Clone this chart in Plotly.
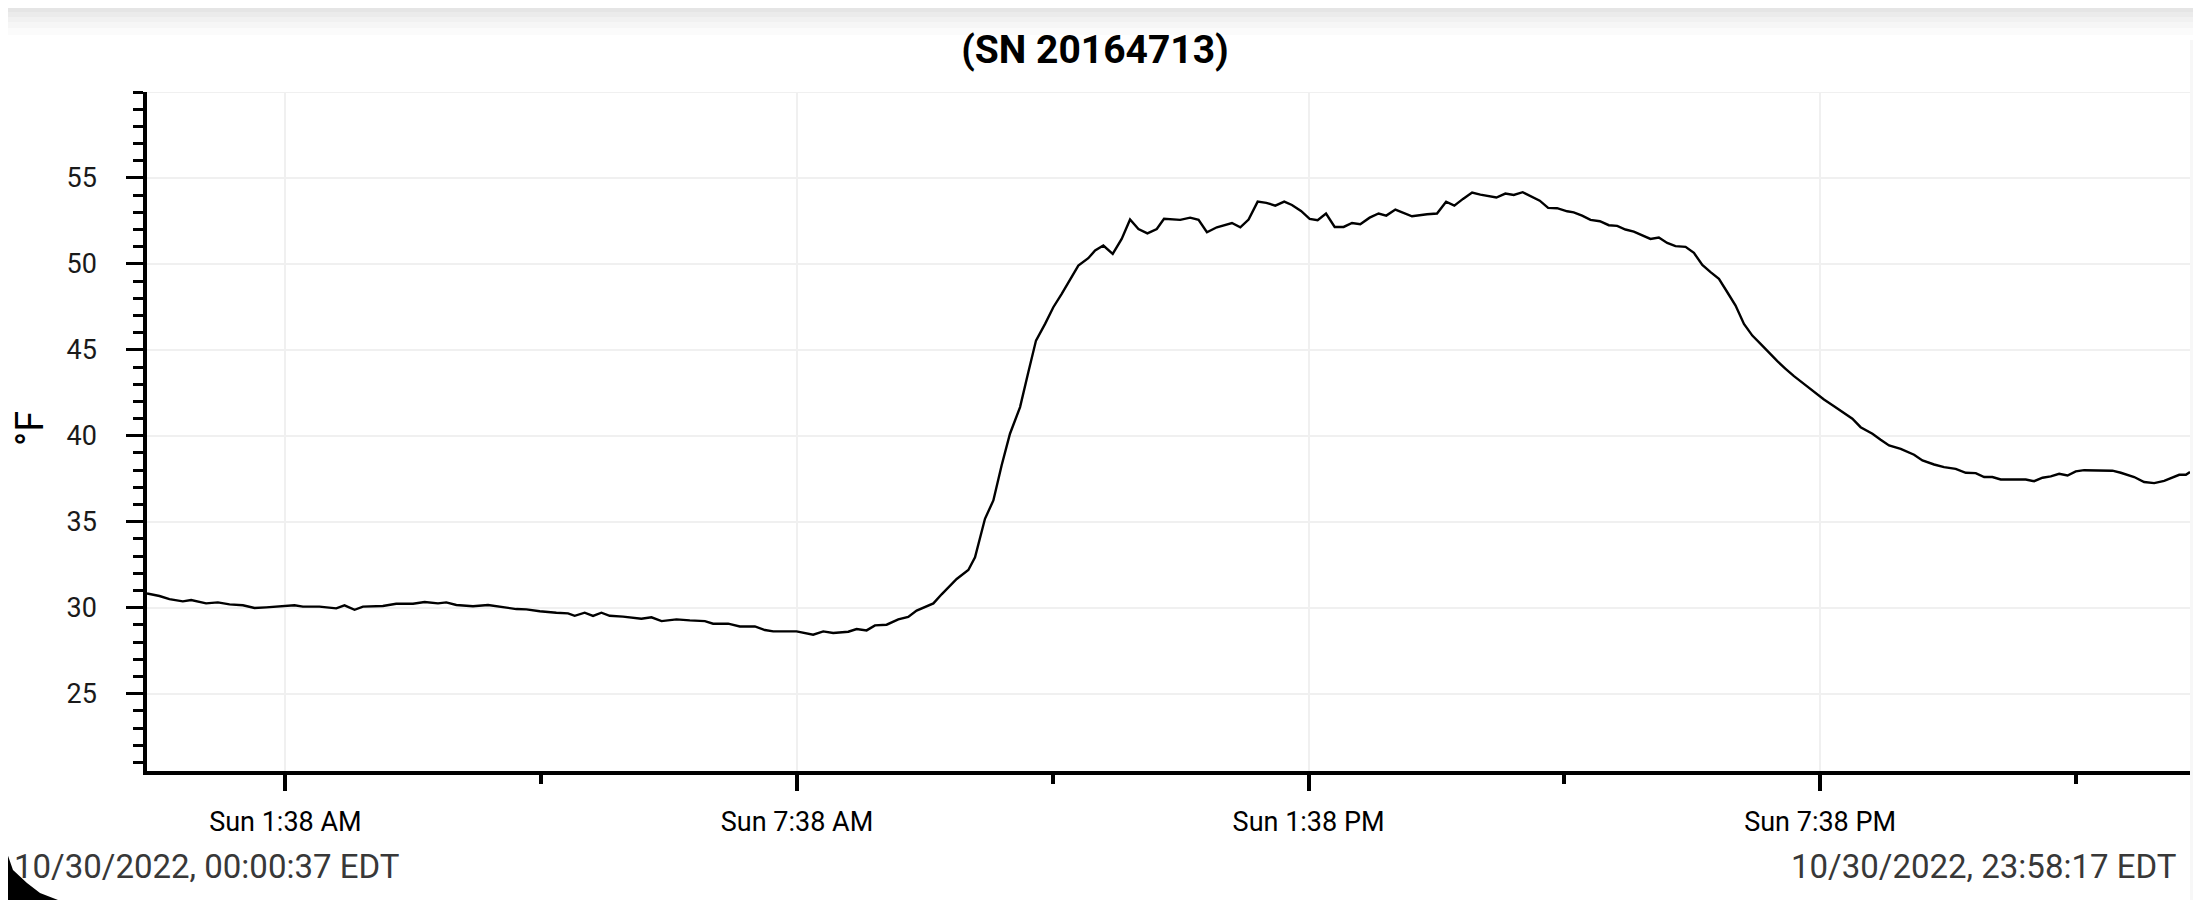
import pandas as pd
import plotly.graph_objects as go

# page is drawn 8px in from the window edge, so every window position is shifted by OFF
W, H = 2201, 900
OFF = 8
# plot area edges in window pixels
P_LEFT, P_RIGHT, P_TOP, P_BOTTOM = 147, 2190, 92, 771

day = "2022-10-30"
title = "(SN 20164713)"
unit = "°F"
start_label = "10/30/2022, 00:00:37 EDT"
end_label = "10/30/2022, 23:58:17 EDT"

# logger readings: minutes after midnight, temperature in °F
minutes = [
    0.62, 9.4, 16.4, 25.8, 31.7, 42.2, 50.5, 58.7, 68.1, 76.3, 84.5, 93.9,
    104.4, 110.3, 122.0, 133.8, 139.6, 146.7, 152.6, 166.6, 176.0, 187.8,
    196.0, 205.4, 211.2, 218.3, 230.0, 240.6, 248.8, 260.5, 267.6, 277.0,
    288.7, 296.9, 301.6, 308.6, 314.5, 320.4, 326.2, 335.6, 348.5, 355.6,
    362.7, 373.2, 382.6, 393.2, 399.0, 409.6, 417.8, 428.4, 435.4, 441.3,
    457.7, 469.4, 476.5, 483.5, 494.1, 500.0, 507.0, 512.9, 521.1, 529.3,
    536.3, 542.2, 554.0, 559.8, 570.4, 578.6, 583.3, 590.3, 596.2, 602.0,
    607.9, 615.0, 620.8, 626.2, 632.6, 638.4, 644.3, 650.2, 656.0, 663.0,
    667.8, 673.6, 680.2, 686.5, 692.4, 698.3, 704.6, 711.2, 716.3, 727.7,
    734.7, 740.6, 746.5, 753.5, 764.1, 770.0, 775.8, 782.2, 788.3, 794.6,
    800.9, 806.3, 812.7, 818.8, 824.4, 830.3, 836.4, 842.7, 848.6, 854.4,
    861.0, 867.3, 872.7, 879.1, 890.8, 901.4, 908.4, 914.8, 920.6, 926.7,
    933.1, 938.9, 950.2, 956.5, 962.4, 968.7, 974.1, 980.7, 986.6, 992.9,
    1000.0, 1004.6, 1010.5, 1016.4, 1023.0, 1029.3, 1035.2, 1041.0, 1046.9,
    1052.8, 1058.6, 1064.5, 1070.4, 1076.2, 1083.3, 1089.2, 1095.1, 1100.9,
    1106.8, 1112.7, 1118.5, 1124.4, 1130.3, 1136.1, 1142.0, 1147.9, 1153.7,
    1159.6, 1166.6, 1173.7, 1180.7, 1187.8, 1194.8, 1200.7, 1206.5, 1214.8,
    1220.6, 1226.5, 1234.7, 1244.1, 1250.0, 1258.2, 1265.2, 1273.4, 1280.5,
    1287.5, 1293.4, 1299.2, 1305.1, 1322.7, 1328.6, 1334.5, 1340.3, 1346.2,
    1352.1, 1357.9, 1363.8, 1375.5, 1383.7, 1389.6, 1399.0, 1406.0, 1413.1,
    1420.1, 1426.0, 1430.7, 1435.4, 1438.28,
]
temps_f = [
    30.83, 30.68, 30.50, 30.37, 30.45, 30.25, 30.31, 30.19, 30.14, 29.98, 30.02, 30.08,
    30.14, 30.06, 30.06, 29.96, 30.14, 29.88, 30.06, 30.10, 30.23, 30.23,
    30.33, 30.25, 30.31, 30.16, 30.08, 30.16, 30.06, 29.92, 29.90, 29.79,
    29.71, 29.67, 29.53, 29.71, 29.52, 29.71, 29.53, 29.48, 29.36, 29.44,
    29.22, 29.32, 29.26, 29.22, 29.07, 29.07, 28.91, 28.91, 28.70, 28.62,
    28.62, 28.43, 28.62, 28.53, 28.60, 28.76, 28.68, 28.97, 29.01, 29.32,
    29.46, 29.83, 30.25, 30.78, 31.67, 32.19, 32.93, 35.17, 36.24, 38.27,
    40.12, 41.67, 43.70, 45.54, 46.51, 47.48, 48.26, 49.13, 49.90, 50.33,
    50.78, 51.07, 50.58, 51.45, 52.58, 52.03, 51.78, 52.03, 52.62, 52.56,
    52.69, 52.56, 51.84, 52.13, 52.38, 52.13, 52.58, 53.62, 53.55, 53.39,
    53.62, 53.43, 53.08, 52.62, 52.54, 52.93, 52.15, 52.15, 52.38, 52.31,
    52.69, 52.93, 52.81, 53.16, 52.77, 52.89, 52.93, 53.62, 53.39, 53.78,
    54.15, 54.03, 53.86, 54.09, 54.01, 54.17, 53.93, 53.68, 53.26, 53.24,
    53.06, 53.00, 52.81, 52.56, 52.48, 52.25, 52.21, 52.00, 51.88,
    51.65, 51.45, 51.53, 51.22, 51.03, 50.99, 50.64, 49.94, 49.52,
    49.13, 48.35, 47.58, 46.51, 45.83, 45.35, 44.83, 44.34, 43.90,
    43.47, 43.02, 42.54, 42.11, 41.72, 41.34, 40.99, 40.50, 40.12,
    39.77, 39.44, 39.24, 38.90, 38.57, 38.33, 38.18, 38.08, 37.85,
    37.83, 37.60, 37.60, 37.46, 37.46, 37.36, 37.56, 37.64, 37.79,
    37.69, 37.93, 38.00, 38.00, 37.97, 37.85, 37.60, 37.31, 37.25,
    37.38, 37.56, 37.73, 37.73, 37.89,
]

x_range = ["00:00:37", "23:58:17"]
tick_times = ["01:38", "07:38", "13:38", "19:38"]
tick_labels = ["Sun 1:38 AM", "Sun 7:38 AM", "Sun 1:38 PM", "Sun 7:38 PM"]
minor_times = ["04:38", "10:38", "16:38", "22:38"]
y_ticks = [25, 30, 35, 40, 45, 50, 55]
y_range = [20.5, 60]

base = pd.Timestamp(day)
times = base + pd.to_timedelta(minutes, unit="m")


def at(hhmm):
    return pd.Timestamp(f"{day} {hhmm}")


pw = P_RIGHT - P_LEFT
ph = P_BOTTOM - P_TOP


def px(x):
    # window x pixel -> paper coordinate
    return (x - P_LEFT) / pw


def py(y):
    # window y pixel -> paper coordinate
    return (P_BOTTOM - y) / ph


fig = go.Figure()
fig.add_trace(go.Scatter(
    x=times, y=temps_f, mode="lines",
    line=dict(color="#000000", width=2.4),
    hoverinfo="skip", showlegend=False,
))

shapes = []
# faint line across the top of the plot (60 °F)
shapes.append(dict(type="line", xref="paper", x0=0, x1=1, yref="y", y0=60, y1=60,
                   line=dict(color="#f0f0f0", width=2), layer="below"))
# shadow band at the very top of the screenshot
bands = [(0, 4, "#c9c9c9"), (4, 8, "#dddddd"), (8, 12, "#e5e5e5"), (12, 17, "#ebebeb"),
         (17, 22, "#f1f1f1"), (22, 28, "#f6f6f6"), (28, 35, "#fbfbfb")]
for y0, y1, c in bands:
    shapes.append(dict(type="rect", xref="paper", yref="paper",
                       x0=px(0), x1=px(W + 20), y0=py(y1), y1=py(y0 - 10 if y0 == 0 else y0),
                       fillcolor=c, line=dict(width=0)))
# light strip on the far right
shapes.append(dict(type="rect", xref="paper", yref="paper",
                   x0=px(2190), x1=px(W + 20), y0=py(H + 20), y1=py(40),
                   fillcolor="#f7f7f7", line=dict(width=0)))
# rounded screen corner, bottom left
corner = [(-10, 800), (0, 808), (2, 830), (7, 853), (13, 870), (27, 883), (40, 893),
          (58, 900), (60, 920), (-10, 920)]
path = "M " + " L ".join(f"{px(a):.5f},{py(b):.5f}" for a, b in corner) + " Z"
shapes.append(dict(type="path", xref="paper", yref="paper", path=path,
                   fillcolor="#000000", line=dict(width=0)))

font = "Roboto, Arial, sans-serif"

fig.update_layout(
    width=W, height=H,
    margin=dict(l=P_LEFT - OFF, r=W - (P_RIGHT - OFF), t=P_TOP - OFF, b=H - (P_BOTTOM - OFF)),
    paper_bgcolor="white", plot_bgcolor="white",
    font=dict(family=font, color="#111111", size=27),
    title=dict(text=f"<b>{title}</b>", x=(1095 - OFF) / W, xanchor="center",
               y=1 - (49 - OFF) / H, yanchor="middle", yref="container",
               font=dict(size=39, color="#000000", family=font)),
    shapes=shapes,
    xaxis=dict(
        type="date",
        range=[f"{day} {x_range[0]}", f"{day} {x_range[1]}"],
        tickvals=[at(t) for t in tick_times], ticktext=tick_labels,
        ticks="outside", ticklen=16, tickwidth=3.5, tickcolor="#000000",
        showline=True, linecolor="#000000", linewidth=4,
        showgrid=True, gridcolor="#f0f0f0", gridwidth=2,
        zeroline=False, ticklabelstandoff=8,
        tickfont=dict(size=27, color="#000000"),
        minor=dict(tickvals=[at(t) for t in minor_times], ticks="outside",
                   ticklen=9, tickwidth=3.5, tickcolor="#000000", showgrid=False),
    ),
    yaxis=dict(
        range=y_range, tickvals=y_ticks,
        ticks="outside", ticklen=17, tickwidth=3.3, tickcolor="#000000",
        showline=True, linecolor="#000000", linewidth=3.5,
        showgrid=True, gridcolor="#f0f0f0", gridwidth=2,
        zeroline=False, ticklabelstandoff=24,
        tickfont=dict(size=27, color="#1a1a1a"),
        minor=dict(dtick=1, ticks="outside", ticklen=10, tickwidth=3.3,
                   tickcolor="#000000", showgrid=False),
    ),
    annotations=[
        dict(text=unit, textangle=-90, xref="paper", yref="paper",
             x=px(30), y=py(429), xanchor="center", yanchor="middle",
             showarrow=False, font=dict(size=38, color="#000000")),
        dict(text=start_label, xref="paper", yref="paper",
             x=px(12), y=py(866), xanchor="left", yanchor="middle",
             showarrow=False, font=dict(size=33, color="#383838")),
        dict(text=end_label, xref="paper", yref="paper",
             x=px(2178), y=py(866), xanchor="right", yanchor="middle",
             showarrow=False, font=dict(size=33, color="#383838")),
    ],
)

fig.write_html("out.html")
